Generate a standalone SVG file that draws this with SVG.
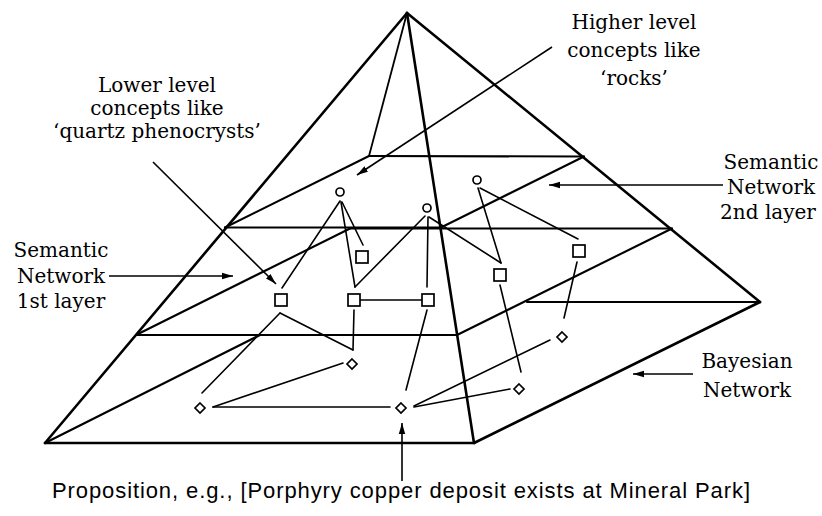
<svg xmlns="http://www.w3.org/2000/svg" width="822" height="516" viewBox="0 0 822 516">
<style>
  .edge{stroke:#000;stroke-width:2.6;fill:none;stroke-linecap:round;stroke-linejoin:round}
  .slice{stroke:#000;stroke-width:2.1;fill:none;stroke-linecap:round}
  .hid{stroke:#000;stroke-width:1.8;fill:none}
  .con{stroke:#000;stroke-width:1.6;fill:none;stroke-linecap:round}
  .lab{stroke:#000;stroke-width:1.6;fill:none}
  .node{stroke:#000;stroke-width:1.7;fill:#fff}
  .t{font-family:"DejaVu Serif","Liberation Serif",serif;font-size:20px;fill:#000;text-anchor:middle}
  .s{font-family:"Liberation Sans","DejaVu Sans",sans-serif;font-size:22px;fill:#000}
</style>
<defs>
  <marker id="ah" markerUnits="userSpaceOnUse" markerWidth="12" markerHeight="8" refX="11" refY="4" orient="auto">
    <path d="M0,0.8 L11,4 L0,7.2 Z" fill="#000"/>
  </marker>
</defs>
<rect width="822" height="516" fill="#fff"/>

<g id="pyramid">
  <line class="edge" x1="407" y1="13" x2="45" y2="443"/>
  <line class="edge" x1="407" y1="13" x2="474" y2="443"/>
  <line class="edge" x1="407" y1="13" x2="760" y2="302"/>
  <line class="edge" x1="45" y1="443" x2="474" y2="443"/>
  <line class="edge" x1="474" y1="443" x2="760" y2="302"/>
  <line class="hid" x1="407" y1="13" x2="369" y2="156"/>
  <line class="slice" x1="225" y1="227.5" x2="441" y2="227.5"/>
  <line class="slice" x1="441" y1="227.5" x2="584" y2="156.5"/>
  <line class="slice" x1="225" y1="227.5" x2="369" y2="156"/>
  <line class="slice" x1="369" y1="156" x2="584" y2="156.5"/>
  <line class="slice" x1="136" y1="335" x2="457" y2="335"/>
  <line class="slice" x1="457" y1="335" x2="672" y2="228.5"/>
  <line class="slice" x1="136" y1="335" x2="350" y2="228.5"/>
  <line class="slice" x1="350" y1="228.5" x2="672" y2="228.5"/>
  <line class="slice" x1="45" y1="443" x2="260" y2="335"/>
  <line class="slice" x1="527" y1="302" x2="760" y2="302"/>
</g>

<g id="connectors">
  <line class="con" x1="340" y1="201" x2="282" y2="288"/>
  <line class="con" x1="341" y1="202" x2="355" y2="287"/>
  <line class="con" x1="342" y1="202" x2="363" y2="245"/>
  <line class="con" x1="425" y1="216" x2="355" y2="287"/>
  <line class="con" x1="428" y1="217" x2="427" y2="287"/>
  <line class="con" x1="429" y1="217" x2="501" y2="263"/>
  <line class="con" x1="478" y1="188" x2="501" y2="263"/>
  <line class="con" x1="480" y1="188" x2="578" y2="239"/>
  <line class="con" x1="360" y1="300" x2="422" y2="300"/>
  <line class="con" x1="280" y1="313" x2="202" y2="393"/>
  <line class="con" x1="280" y1="313" x2="353" y2="350"/>
  <line class="con" x1="354" y1="310" x2="353" y2="350"/>
  <line class="con" x1="427" y1="310" x2="406" y2="390"/>
  <line class="con" x1="500" y1="285" x2="521" y2="372"/>
  <line class="con" x1="577" y1="262" x2="564" y2="318"/>
  <line class="con" x1="213" y1="407" x2="343" y2="363"/>
  <line class="con" x1="213" y1="407" x2="390" y2="407"/>
  <line class="con" x1="414" y1="407" x2="510" y2="389"/>
  <line class="con" x1="414" y1="406" x2="550" y2="340"/>
</g>

<g id="c1"><circle class="node" cx="340" cy="192" r="4"/></g>
<g id="c2"><circle class="node" cx="477" cy="180" r="4"/></g>
<g id="c3"><circle class="node" cx="427" cy="208" r="4"/></g>

<g id="sA"><rect class="node" x="356" y="251" width="12" height="12"/></g>
<g id="sB"><rect class="node" x="275" y="294" width="12" height="12"/></g>
<g id="sC"><rect class="node" x="348" y="294" width="12" height="12"/></g>
<g id="sD"><rect class="node" x="422" y="294" width="12" height="12"/></g>
<g id="sE"><rect class="node" x="494" y="269" width="12" height="12"/></g>
<g id="sF"><rect class="node" x="573" y="245" width="12" height="12"/></g>

<g id="d1"><path class="node" d="M200,403 L205,408 L200,413 L195,408 Z"/></g>
<g id="d2"><path class="node" d="M352,359 L357,364 L352,369 L347,364 Z"/></g>
<g id="d3"><path class="node" d="M401,403 L406,408 L401,413 L396,408 Z"/></g>
<g id="d4"><path class="node" d="M519,384 L524,389 L519,394 L514,389 Z"/></g>
<g id="d5"><path class="node" d="M562,332 L567,337 L562,342 L557,337 Z"/></g>

<g id="label-higher">
  <text class="t" x="634" y="29">Higher level</text>
  <text class="t" x="634" y="57">concepts like</text>
  <text class="t" x="634" y="85">‘rocks’</text>
  <line class="lab" x1="552" y1="47" x2="357" y2="175" marker-end="url(#ah)"/>
</g>
<g id="label-lower">
  <text class="t" x="157" y="92">Lower level</text>
  <text class="t" x="157" y="115">concepts like</text>
  <text class="t" x="157" y="138">‘quartz phenocrysts’</text>
  <line class="lab" x1="153" y1="162" x2="276" y2="284" marker-end="url(#ah)"/>
</g>
<g id="label-sem2">
  <text class="t" x="771" y="169">Semantic</text>
  <text class="t" x="771" y="194">Network</text>
  <text class="t" x="768" y="219">2nd layer</text>
  <line class="lab" x1="723" y1="185" x2="549" y2="185" marker-end="url(#ah)"/>
</g>
<g id="label-sem1">
  <text class="t" x="61" y="257">Semantic</text>
  <text class="t" x="61" y="283">Network</text>
  <text class="t" x="61" y="308">1st layer</text>
  <line class="lab" x1="109" y1="276" x2="233" y2="276" marker-end="url(#ah)"/>
</g>
<g id="label-bayes">
  <text class="t" x="747" y="368">Bayesian</text>
  <text class="t" x="747" y="397">Network</text>
  <line class="lab" x1="693" y1="374" x2="633" y2="374" marker-end="url(#ah)"/>
</g>
<g id="label-prop">
  <text class="s" x="52" y="498" textLength="698">Proposition, e.g., [Porphyry copper deposit exists at Mineral Park]</text>
  <line class="lab" x1="402" y1="481" x2="402" y2="423" marker-end="url(#ah)"/>
</g>
</svg>
